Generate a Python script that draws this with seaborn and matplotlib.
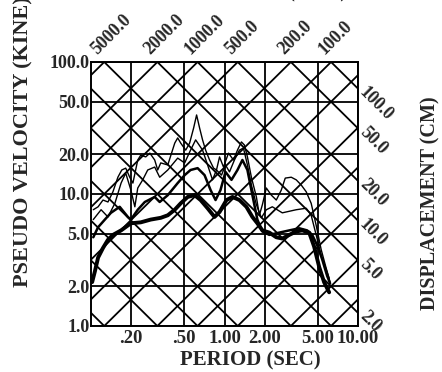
import numpy as np
import pandas as pd
import matplotlib
matplotlib.use("Agg")
import matplotlib.pyplot as plt
import seaborn as sns
from matplotlib.ticker import NullLocator

# Data
period_ticks = [0.2, 0.5, 1.0, 2.0, 5.0, 10.0]
period_labels = [".20", ".50", "1.00", "2.00", "5.00", "10.00"]
vel_ticks = [1, 2, 5, 10, 20, 50, 100]
vel_labels = ["1.0", "2.0", "5.0", "10.0", "20.0", "50.0", "100.0"]

disp_grid = [0.02, 0.05, 0.1, 0.2, 0.5, 1, 2, 5, 10, 20, 50, 100]
acc_grid = [1, 2, 5, 10, 20, 50, 100, 200, 500, 1000, 2000, 5000]
disp_labels = [100, 50, 20, 10, 5, 2]
acc_labels = [5000, 2000, 1000, 500, 200, 100]

# curve A (thin, highest)
t_a = [0.104, 0.113, 0.123, 0.134, 0.146, 0.159, 0.170, 0.182, 0.195, 0.206,
       0.224, 0.236, 0.257, 0.276, 0.300, 0.316, 0.333, 0.376, 0.424, 0.446,
       0.470, 0.512, 0.548, 0.587, 0.618, 0.651, 0.685, 0.722, 0.773, 0.828,
       0.871, 0.918, 0.983, 1.071, 1.167, 1.251, 1.339, 1.410, 1.485, 1.590,
       1.733, 1.825, 1.922, 2.057, 2.243, 2.443, 2.662, 2.852, 3.162, 3.446,
       3.755, 4.092, 4.459, 4.859, 5.295, 5.770, 6.18]
sv_a = [7.6, 8.0, 9.0, 8.7, 10.4, 13.4, 15.2, 15.7, 13.4, 12.1,
        18.1, 19.7, 19.1, 20.4, 18.1, 15.2, 17.2, 16.6, 24.3, 26.6,
        24.3, 21.5, 24.3, 31.6, 39.7, 31.6, 25.7, 21.5, 18.1, 15.7,
        15.2, 19.1, 16.0, 20.4, 18.1, 21.5, 24.8, 23.5, 19.1, 13.4,
        9.5, 6.9, 8.3, 11.1, 9.8, 9.0, 10.7, 13.2, 13.4, 12.8,
        11.7, 10.4, 8.5, 5.8, 3.8, 2.75, 2.15]

# curve B (thin, second)
t_b = [0.104, 0.119, 0.134, 0.151, 0.168, 0.182, 0.199, 0.213, 0.224, 0.244,
       0.266, 0.300, 0.327, 0.376, 0.446, 0.503, 0.557, 0.608, 0.685, 0.747,
       0.813, 0.871, 0.950, 1.017, 1.090, 1.187, 1.294, 1.386, 1.485, 1.590,
       1.733, 1.888, 2.057, 2.281, 2.710, 3.446, 4.092, 4.459, 4.859, 5.295,
       5.770, 6.08]
sv_b = [6.4, 7.6, 6.7, 8.5, 12.1, 14.4, 10.7, 8.0, 11.1, 12.8,
        15.2, 16.0, 13.4, 15.2, 18.7, 17.2, 21.5, 25.7, 21.5, 16.6,
        12.8, 15.2, 13.9, 16.6, 14.7, 18.1, 21.5, 22.3, 16.6, 11.7,
        8.3, 6.6, 7.6, 8.0, 7.2, 7.6, 7.8, 6.9, 4.9, 3.45,
        2.7, 2.3]

# curve C (medium)
t_c = [0.104, 0.113, 0.127, 0.141, 0.164, 0.189, 0.199, 0.224, 0.253, 0.300,
       0.327, 0.376, 0.446, 0.503, 0.557, 0.629, 0.709, 0.787, 0.857, 0.933,
       1.017, 1.128, 1.251, 1.362, 1.485, 1.618, 1.763, 1.922, 2.167, 2.573,
       3.055, 3.630, 4.16, 4.54, 4.94, 5.39, 5.87, 6.18]
sv_c = [4.7, 5.6, 6.4, 7.2, 8.0, 6.7, 6.4, 7.6, 8.7, 9.5,
        8.7, 9.8, 12.1, 13.9, 15.2, 15.7, 13.9, 10.7, 9.0, 10.7,
        14.7, 12.8, 15.2, 18.1, 15.2, 9.8, 6.4, 5.2, 4.9, 5.1,
        5.3, 5.5, 5.3, 4.9, 4.1, 3.2, 2.4, 2.1]

# curve D (thick, lowest)
t_d = [0.102, 0.107, 0.113, 0.123, 0.134, 0.146, 0.168, 0.199, 0.236, 0.280,
       0.333, 0.376, 0.424, 0.470, 0.530, 0.597, 0.662, 0.747, 0.842, 0.918,
       1.035, 1.147, 1.294, 1.459, 1.618, 1.763, 1.922, 2.167, 2.443, 2.710,
       3.055, 3.446, 3.82, 4.31, 4.69, 5.12, 5.57, 6.08]
sv_d = [2.15, 2.6, 3.3, 3.9, 4.5, 4.9, 5.3, 6.0, 6.1, 6.4,
        6.6, 6.9, 7.6, 8.5, 9.5, 9.8, 9.0, 7.8, 6.7, 7.3,
        9.0, 9.5, 9.0, 8.0, 6.7, 6.0, 5.3, 5.1, 4.7, 4.6,
        4.9, 5.2, 5.3, 5.1, 4.0, 2.8, 2.15, 1.8]

curves = [(t_a, sv_a, 1.0), (t_b, sv_b, 1.0), (t_c, sv_c, 1.8), (t_d, sv_d, 2.8)]

# Style
sns.set_style("white")
plt.rcParams["font.family"] = ["Liberation Serif", "DejaVu Serif"]
plt.rcParams["font.weight"] = "bold"

fig = plt.figure(figsize=(4.42, 3.72), dpi=100)
ax = fig.add_axes([91 / 442, 1 - 326 / 372, 267 / 442, 264 / 372])
ax.set_xscale("log")
ax.set_yscale("log")
ax.set_xlim(0.1, 10)
ax.set_ylim(1, 100)

# tripartite grid
t_edge = np.array([0.1, 10.0])
for d in disp_grid:
    ax.plot(t_edge, 2 * np.pi * d / t_edge, color="black", lw=1.3, zorder=1)
for a in acc_grid:
    ax.plot(t_edge, a * t_edge / (2 * np.pi), color="black", lw=1.3, zorder=1)

# response spectra
for t, sv, w in curves:
    df = pd.DataFrame({"period": t, "velocity": sv})
    sns.lineplot(data=df, x="period", y="velocity", ax=ax, color="black",
                 lw=w, sort=False, estimator=None, zorder=3)

ax.set_xlim(0.1, 10)
ax.set_ylim(1, 100)
ax.set_xticks(period_ticks)
ax.set_xticklabels(period_labels)
ax.set_yticks(vel_ticks)
ax.set_yticklabels(vel_labels)
ax.xaxis.set_minor_locator(NullLocator())
ax.yaxis.set_minor_locator(NullLocator())
ax.tick_params(axis="x", length=0, labelsize=13.5, pad=3)
ax.tick_params(axis="y", length=0, labelsize=13, pad=1)
ax.grid(True, which="major", color="black", lw=1.3)
ax.set_xlabel("")
ax.set_ylabel("")
for s in ax.spines.values():
    s.set_color("black")
    s.set_linewidth(1.4)

# acceleration labels on top
for a in acc_labels:
    t_top = 2 * np.pi * 100 / a
    ax.annotate(f"{a:.1f}", (t_top, 100), xytext=(-3, 3),
                textcoords="offset points", rotation=45, rotation_mode="anchor",
                ha="left", va="bottom", fontsize=13, annotation_clip=False)

# displacement labels on right
for d in disp_labels:
    sv_right = 2 * np.pi * d / 10
    ax.annotate(f"{d:.1f}", (10, sv_right), xytext=(3, -1),
                textcoords="offset points", rotation=-45, rotation_mode="anchor",
                ha="left", va="center", fontsize=13, annotation_clip=False)

fig.text(250 / 442, 1 - 360 / 372, "PERIOD (SEC)", ha="center", va="center",
         fontsize=15)
fig.text(23 / 442, 1 - 142 / 372, "PSEUDO VELOCITY (KINE)", rotation=90,
         ha="center", va="center", fontsize=16)
fig.text(430 / 442, 1 - 203 / 372, "DISPLACEMENT (CM)", rotation=90,
         ha="center", va="center", fontsize=14.5)
fig.text(347 / 442, 1 + 3 / 372, "PSEUDO ACCELERATION (GAL)", ha="right",
         va="baseline", fontsize=15)

fig.savefig("out.png", dpi=100)
